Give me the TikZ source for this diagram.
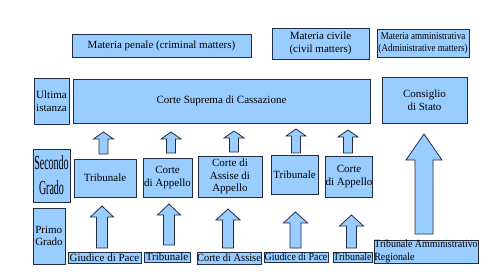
\documentclass[tikz,border=0pt]{standalone}
\usepackage{fontspec}
\setmainfont{Liberation Serif}
\definecolor{boxfill}{RGB}{153,204,255}
\definecolor{boxline}{RGB}{35,45,65}
\newcommand{\uparr}[6]{% cx, ytip, ybot, headhalf, shafthalf, headh
  \draw[arr] (#1,#2) -- (#1+#4,#2+#6) -- (#1+#5,#2+#6) -- (#1+#5,#3)
    -- (#1-#5,#3) -- (#1-#5,#2+#6) -- (#1-#4,#2+#6) -- cycle;}
\begin{document}
\begin{tikzpicture}[x=1pt,y=-1pt,
  box/.style={draw=boxline, fill=boxfill, line width=0.8pt, inner sep=0pt, align=center,
    font=\fontsize{11}{12.5}\selectfont},
  arr/.style={draw=boxline, fill=boxfill, line width=0.8pt, line join=miter}]
\useasboundingbox[fill=white] (0,0) rectangle (500,278);
% top headings
\node[box, minimum width=179pt, minimum height=23pt] (penale) at (161.5,45.5) {Materia penale (criminal matters)};
\node[box, minimum width=97pt, minimum height=31pt] (civile) at (320.5,43.5) {Materia civile\\(civil matters)};
\node[box, minimum width=92pt, minimum height=28pt, font=\fontsize{10.5}{12}\selectfont] (ammin) at (423,43) {\scalebox{0.86}[1]{Materia amministrativa}\\\scalebox{0.86}[1]{(Administrative matters)}};
% last instance row
\node[box, minimum width=35pt, minimum height=46pt] (ultima) at (51.5,101) {Ultima\\istanza};
\node[box, minimum width=297pt, minimum height=44pt] (suprema) at (221.5,101) {Corte Suprema di Cassazione};
\node[box, minimum width=85pt, minimum height=46pt] (consiglio) at (424.5,100) {Consiglio\\di Stato};
% second degree
\node[box, minimum width=37pt, minimum height=53pt, font=\fontsize{20}{25}\selectfont] (secondo) at (51.5,175.5) {\scalebox{0.5}[1]{Secondo}\\\scalebox{0.5}[1]{Grado}};
\node[box, minimum width=62pt, minimum height=38pt] (trib2) at (105,178) {Tribunale};
\node[box, minimum width=49pt, minimum height=39pt] (app) at (167.5,177.5) {Corte\\di Appello};
\node[box, minimum width=64pt, minimum height=41pt] (assapp) at (230,176.5) {Corte di\\Assise di\\Appello};
\node[box, minimum width=47pt, minimum height=39pt] (trib2c) at (294.5,174.5) {Tribunale};
\node[box, minimum width=46pt, minimum height=41pt] (appc) at (349,176.5) {Corte\\di Appello};
% first degree
\node[box, minimum width=32pt, minimum height=56pt, align=left] (primo) at (49,236) {Primo\\Grado};
\node[box, minimum width=73pt, minimum height=11pt] (gdp) at (104.5,257.5) {Giudice di Pace};
\node[box, minimum width=46pt, minimum height=10pt] (trib1) at (167,257) {Tribunale};
\node[box, minimum width=64pt, minimum height=12pt] (assise) at (229,258) {\scalebox{0.95}[1]{Corte di Assise}};
\node[box, minimum width=64pt, minimum height=10pt] (gdpc) at (296,257) {\scalebox{0.9}[1]{Giudice di Pace}};
\node[box, minimum width=39pt, minimum height=10pt] (trib1c) at (352.5,257) {\scalebox{0.9}[1]{Tribunale}};
\node[box, minimum width=104pt, minimum height=23pt, align=left] (tar) at (426,251.5) {\scalebox{0.9}[1]{Tribunale Amministrativo}\\\scalebox{0.9}[1]{Regionale}\hspace*{50pt}};
% arrows second -> last
\uparr{103.5}{132}{154}{10}{4.5}{7}
\uparr{171}{132}{153}{10}{4.5}{7}
\uparr{234}{131}{152}{10}{4.5}{7}
\uparr{296}{129}{153}{10}{4.5}{7}
\uparr{348}{130}{153}{10}{4.5}{7}
% arrows first -> second
\uparr{102}{206}{248}{11.5}{5.5}{11}
\uparr{169}{204}{245}{11.5}{5.5}{11}
\uparr{228}{209}{248}{12}{5.5}{11}
\uparr{295.5}{212}{248}{12}{5.5}{11}
\uparr{351.5}{215}{248}{12}{5}{11}
% big arrow
\uparr{424}{134}{234}{18}{9}{26}
\end{tikzpicture}
\end{document}
